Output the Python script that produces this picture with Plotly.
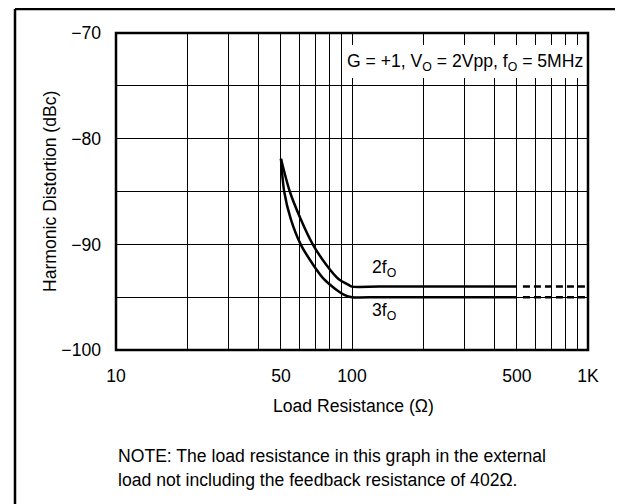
import numpy as np
import plotly.graph_objects as go

# ---- data ----
r_2f = [50, 54.5, 60.6, 68.2, 78.2, 87.4, 97.8, 100, 130, 250, 500]
hd_2f = [-81.9, -85, -87.6, -90, -92.0, -93.25, -93.9, -94, -94, -94, -94]
r_3f = [50, 51.6, 55.0, 60.6, 68.8, 75.7, 84.7, 93.2, 100, 130, 250, 500]
hd_3f = [-81.9, -85, -87.6, -90, -92.0, -93.25, -94.2, -94.8, -95, -95, -95, -95]
r_ext = [530, 1000]
hd_2f_ext = [-94, -94]
hd_3f_ext = [-95, -95]

x_tickvals = [10, 50, 100, 500, 1000]
x_ticktext = ["10", "50", "100", "500", "1K"]
x_minor = [20, 30, 40, 60, 70, 80, 90, 200, 300, 400, 600, 700, 800, 900]
y_tickvals = [-100, -90, -80, -70]
y_ticktext = ["\u2212100", "\u221290", "\u221280", "\u221270"]
y_minor = [-95, -85, -75]

label_2f = ("2f<sub>O</sub>", 137, -92.3)
label_3f = ("3f<sub>O</sub>", 137, -96.4)

FONT = "Liberation Sans, Arial, sans-serif"
FS = 17.6
OFF = 8  # page body margin
W, H = 623 - OFF, 504 - OFF
L, R, T, B = 116 - OFF, 35, 33 - OFF, 154
pw, ph = W - L - R, H - T - B
TXT = dict(family=FONT, size=FS, color="black")


def px(x):  # page pixel -> paper
    return (x - OFF - L) / pw


def py(y):
    return (H - B - (y - OFF)) / ph


fig = go.Figure()
fig.add_trace(go.Scatter(x=r_2f, y=hd_2f, mode="lines",
                         line=dict(color="black", width=2.5, shape="spline", smoothing=0.8)))
fig.add_trace(go.Scatter(x=r_3f, y=hd_3f, mode="lines",
                         line=dict(color="black", width=2.5, shape="spline", smoothing=0.8)))
fig.add_trace(go.Scatter(x=r_ext, y=hd_2f_ext, mode="lines", line=dict(color="black", width=2.5, dash="7px,4px")))
fig.add_trace(go.Scatter(x=r_ext, y=hd_3f_ext, mode="lines", line=dict(color="black", width=2.5, dash="7px,4px")))

fig.update_layout(
    width=W, height=H,
    margin=dict(l=L, r=R, t=T, b=B, pad=0),
    paper_bgcolor="white", plot_bgcolor="white",
    showlegend=False,
    font=TXT,
    xaxis=dict(
        type="log", range=[1, 3],
        tickmode="array", tickvals=x_tickvals, ticktext=x_ticktext,
        showgrid=True, gridcolor="black", gridwidth=1,
        minor=dict(tickmode="array", tickvals=x_minor, showgrid=True, gridcolor="black", gridwidth=1, ticks=""),
        ticks="", showline=False, zeroline=False,
        ticklabelstandoff=13, automargin=False,
        tickfont=TXT,
    ),
    yaxis=dict(
        range=[-100, -70],
        tickmode="array", tickvals=y_tickvals, ticktext=y_ticktext,
        showgrid=True, gridcolor="black", gridwidth=1,
        minor=dict(tickmode="array", tickvals=y_minor, showgrid=True, gridcolor="black", gridwidth=1, ticks=""),
        ticks="", showline=False, zeroline=False,
        ticklabelstandoff=14, automargin=False,
        tickfont=TXT,
    ),
)

shapes = []
shapes.append(dict(type="line", xref="x", yref="paper", x0=2, x1=2, y0=0, y1=1,
                   line=dict(color="black", width=2), layer="below"))
shapes.append(dict(type="rect", xref="paper", yref="paper", x0=px(343), x1=px(587), y0=py(78), y1=py(45),
                   fillcolor="white", line=dict(width=0), layer="above"))
shapes.append(dict(type="rect", xref="paper", yref="paper", x0=0, x1=1, y0=0, y1=1,
                   line=dict(color="black", width=2.5), layer="above"))
shapes.append(dict(type="line", xref="paper", yref="paper", x0=px(15), x1=px(15), y0=py(9), y1=py(520),
                   line=dict(color="black", width=2.5), layer="above"))
shapes.append(dict(type="line", xref="paper", yref="paper", x0=px(15), x1=px(640), y0=py(9), y1=py(9),
                   line=dict(color="black", width=2.5), layer="above"))
fig.update_layout(shapes=shapes)

ann = []
ann.append(dict(text="G = +1, V<sub>O</sub> = 2Vpp, f<sub>O</sub> = 5MHz", xref="paper", yref="paper",
                x=px(585), y=py(62), xanchor="right", yanchor="middle", showarrow=False, font=TXT))
for txt, xv, yv in (label_2f, label_3f):
    ann.append(dict(text=txt, xref="x", yref="y", x=np.log10(xv), y=yv, xanchor="center", yanchor="middle",
                    showarrow=False, font=TXT))
ann.append(dict(text="Load Resistance (\u03a9)", xref="paper", yref="paper", x=px(353), y=py(406),
                xanchor="center", yanchor="middle", showarrow=False, font=TXT))
ann.append(dict(text="Harmonic Distortion (dBc)", xref="paper", yref="paper", x=px(50), y=py(192),
                xanchor="center", yanchor="middle", textangle=-90, showarrow=False, font=TXT))
ann.append(dict(text="NOTE: The load resistance in this graph in the external", xref="paper", yref="paper",
                x=px(116), y=py(456), xanchor="left", yanchor="middle", showarrow=False, font=TXT))
ann.append(dict(text="load not including the feedback resistance of 402\u03a9.", xref="paper", yref="paper",
                x=px(116), y=py(480), xanchor="left", yanchor="middle", showarrow=False, font=TXT))
fig.update_layout(annotations=ann)

fig.write_html("out.html")
